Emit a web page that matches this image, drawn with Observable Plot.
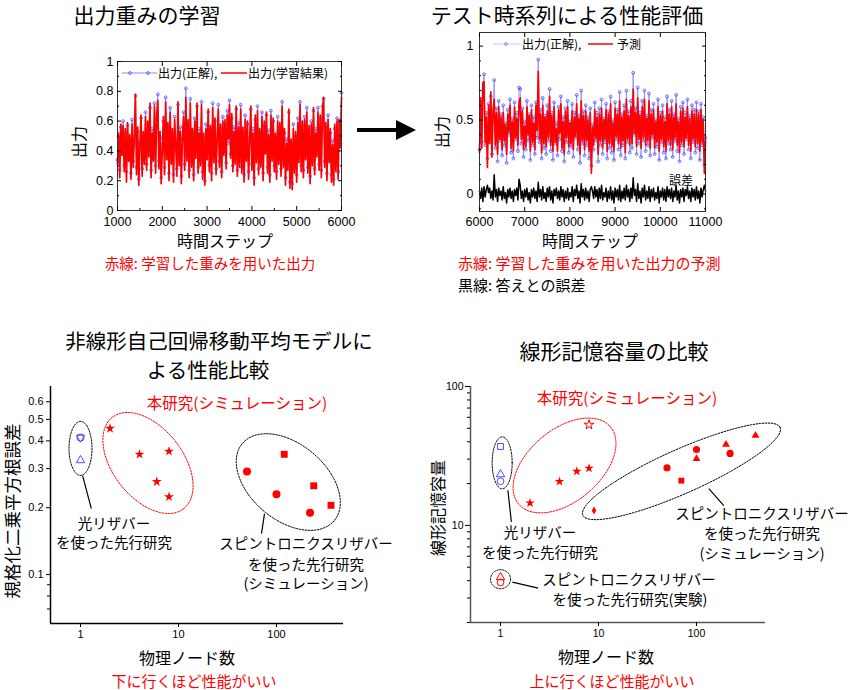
<!DOCTYPE html>
<html><head><meta charset="utf-8">
<script src="https://cdn.jsdelivr.net/npm/d3@7"></script>
<script src="https://cdn.jsdelivr.net/npm/@observablehq/plot@0.6"></script>
<style>
body{margin:0;background:#fff;}
#page{position:relative;width:850px;height:690px;overflow:hidden;font-family:"Noto Sans CJK JP","Liberation Sans",sans-serif;}
.layer{position:absolute;left:0;top:0;}
.lbl{position:absolute;white-space:nowrap;line-height:1;}
</style></head><body><div id="page"></div>
<script>
// ---------- data: training (top-left) ----------
const tlSteps = d3.range(1000, 6001, 25);
const tlAnswer = [.34,.49,.27,.56,.41,.60,.30,.52,.26,.57,.36,.48,.25,.61,.33,.45,.77,.29,.53,.21,
.46,.62,.28,.50,.35,.66,.31,.58,.40,.69,.27,.55,.36,.72,.30,.62,.78,.33,.49,.22,
.44,.60,.29,.76,.38,.57,.25,.69,.35,.52,.24,.63,.41,.28,.71,.34,.56,.23,.48,.66,
.31,.82,.37,.58,.27,.75,.33,.52,.24,.62,.39,.70,.29,.55,.34,.73,.26,.49,.20,.58,
.38,.66,.30,.54,.25,.72,.36,.60,.28,.47,.71,.33,.55,.26,.63,.40,.58,.32,.67,.45,
.74,.38,.62,.30,.56,.35,.68,.27,.59,.33,.71,.29,.53,.24,.64,.37,.58,.26,.49,.68,
.31,.55,.22,.61,.36,.70,.28,.52,.33,.66,.25,.57,.41,.64,.29,.54,.24,.67,.37,.60,
.30,.49,.26,.63,.35,.56,.28,.73,.33,.52,.22,.48,.31,.66,.19,.45,.18,.58,.29,.50,
.24,.62,.36,.73,.30,.57,.27,.63,.38,.69,.29,.54,.23,.60,.34,.67,.28,.55,.40,.69,
.31,.62,.27,.70,.75,.33,.56,.25,.64,.36,.52,.24,.47,.21,.55,.30,.62,.26,.58,.45,.79];
const tlLearned = [.31,.52,.22,.58,.37,.57,.26,.55,.19,.59,.33,.51,.21,.58,.29,.50,.78,.24,.56,.17,
.43,.64,.23,.53,.31,.63,.27,.60,.36,.72,.22,.52,.33,.70,.25,.64,.74,.28,.53,.18,
.41,.63,.24,.73,.34,.59,.20,.66,.31,.55,.19,.61,.44,.23,.73,.30,.53,.18,.51,.63,
.27,.76,.33,.61,.22,.72,.29,.55,.20,.60,.35,.72,.25,.52,.30,.71,.21,.52,.17,.55,
.34,.68,.26,.57,.20,.69,.32,.62,.24,.50,.68,.29,.58,.22,.60,.37,.61,.28,.64,.48,
.71,.35,.65,.26,.53,.31,.70,.23,.56,.29,.68,.25,.56,.19,.61,.33,.60,.21,.46,.70,
.27,.52,.17,.64,.32,.67,.24,.55,.29,.63,.20,.60,.38,.66,.25,.51,.19,.64,.33,.62,
.26,.52,.21,.60,.31,.59,.23,.70,.29,.55,.17,.45,.27,.68,.15,.48,.14,.55,.25,.53,
.19,.59,.32,.71,.26,.60,.22,.61,.34,.66,.25,.57,.18,.58,.30,.69,.24,.52,.36,.66,
.27,.64,.22,.68,.76,.29,.59,.20,.61,.32,.55,.19,.44,.17,.58,.26,.60,.21,.61,.42,.76];
const tlXTicks = [1000,2000,3000,4000,5000,6000];
const tlXMinor = [1500,2500,3500,4500,5500];
const tlYTicks = [0,0.2,0.4,0.6,0.8,1];
const tlYMinor = [0.1,0.3,0.5,0.7,0.9];

// ---------- data: test (top-right) ----------
const trSteps = d3.range(6000, 11001, 25);
const trAnswer = [.30,.62,.35,.70,.81,.33,.55,.24,.61,.38,.66,.27,.52,.77,.31,.58,.22,.63,.36,.54,
.26,.60,.33,.48,.21,.57,.40,.64,.28,.51,.24,.62,.37,.55,.29,.72,.71,.34,.58,.25,
.49,.30,.63,.36,.54,.23,.60,.33,.52,.27,.62,.38,.91,.35,.57,.24,.65,.31,.53,.27,
.60,.36,.71,.29,.55,.23,.62,.34,.48,.26,.59,.37,.66,.29,.52,.22,.58,.35,.63,.28,
.49,.32,.61,.25,.55,.38,.67,.30,.53,.21,.70,.34,.56,.26,.60,.33,.52,.24,.58,.19,
.47,.30,.62,.36,.55,.22,.58,.33,.64,.27,.51,.35,.61,.24,.56,.31,.66,.28,.50,.23,
.62,.37,.57,.30,.69,.26,.54,.33,.60,.24,.70,.35,.56,.28,.63,.31,.82,.40,.58,.27,
.72,.34,.55,.25,.63,.36,.70,.29,.53,.33,.68,.26,.57,.38,.61,.27,.50,.32,.64,.23,
.55,.35,.60,.28,.52,.24,.66,.34,.57,.30,.63,.25,.54,.36,.67,.29,.51,.22,.59,.33,
.62,.27,.55,.37,.64,.30,.53,.24,.60,.35,.57,.28,.62,.31,.56,.23,.61,.33,.52,.20,.38];
const trPredicted = [.28,.65,.31,.75,.76,.35,.52,.18,.60,.34,.69,.25,.56,.64,.33,.55,.27,.59,.37,.52,
.30,.55,.36,.47,.27,.54,.42,.60,.31,.49,.29,.59,.38,.51,.33,.62,.65,.37,.56,.30,
.46,.32,.59,.40,.53,.29,.57,.35,.48,.30,.60,.43,.83,.37,.54,.28,.60,.34,.52,.32,
.56,.38,.66,.33,.53,.29,.59,.35,.44,.29,.57,.41,.61,.31,.49,.27,.56,.38,.59,.32,
.48,.34,.56,.30,.52,.39,.61,.33,.51,.27,.63,.36,.53,.30,.56,.36,.50,.29,.55,.14,
.45,.33,.57,.38,.52,.27,.54,.36,.58,.31,.50,.37,.57,.29,.54,.34,.61,.32,.48,.29,
.58,.39,.54,.34,.63,.31,.52,.36,.56,.28,.64,.37,.53,.33,.59,.34,.71,.41,.55,.32,
.65,.37,.53,.31,.59,.38,.64,.33,.51,.36,.63,.31,.54,.40,.57,.31,.49,.35,.59,.29,
.53,.37,.56,.32,.49,.29,.61,.36,.54,.33,.59,.30,.52,.38,.61,.33,.49,.28,.56,.35,
.58,.32,.52,.38,.59,.33,.51,.29,.56,.37,.54,.32,.57,.34,.54,.29,.57,.35,.49,.14,.36];
const trError = [.02,-.03,.04,-.05,.05,-.02,.03,.06,.01,.04,-.03,.02,-.04,.13,-.02,.03,-.05,.04,-.01,.02,
-.04,.05,-.03,.01,-.06,.03,-.02,.04,-.03,.02,-.05,.03,-.01,.04,-.04,.10,.06,-.03,.02,-.05,
.03,-.02,.04,-.04,.01,-.06,.03,-.02,.04,-.03,.02,-.05,.08,-.02,.03,-.04,.05,-.03,.01,-.05,
.04,-.02,.05,-.04,.02,-.06,.03,-.01,.04,-.03,.02,-.04,.05,-.02,.03,-.05,.02,-.03,.04,-.04,
.01,-.02,.05,-.05,.03,-.01,.06,-.03,.02,-.06,.07,-.02,.03,-.04,.04,-.03,.02,-.05,.03,.05,
.02,-.03,.05,-.02,.03,-.05,.04,-.03,.06,-.04,.01,-.02,.04,-.05,.02,-.03,.05,-.04,.02,-.06,
.04,-.02,.03,-.04,.06,-.05,.02,-.03,.04,-.04,.06,-.02,.03,-.05,.04,-.03,.11,-.01,.03,-.05,
.07,-.03,.02,-.06,.04,-.02,.06,-.04,.02,-.03,.05,-.05,.03,-.02,.04,-.04,.01,-.03,.05,-.06,
.02,-.02,.04,-.04,.03,-.05,.05,-.02,.03,-.03,.04,-.05,.02,-.02,.06,-.04,.02,-.06,.03,-.02,
.04,-.05,.03,-.01,.05,-.03,.02,-.05,.04,-.02,.03,-.04,.05,-.03,.02,-.06,.04,-.02,.03,.06,.02];
const trXTicks = [6000,7000,8000,9000,10000,11000];
const trYTicks = [0,0.5,1];
const trYMinor = [-0.1,0.1,0.2,0.3,0.4,0.6,0.7,0.8,0.9];

// ---------- data: NARMA comparison (bottom-left) ----------
const blStarNodes = [2,4,8,6,8],     blStarNrmse = [0.455,0.348,0.359,0.262,0.224];
const blCircleNodes = [50,100,220],  blCircleNrmse = [0.291,0.230,0.190];
const blSquareNodes = [120,240,360], blSquareNrmse = [0.348,0.251,0.205];
const blPhotonicANodes = [1], blPhotonicANrmse = [0.414];
const blPhotonicBNodes = [1], blPhotonicBNrmse = [0.327];
const blXTicks = [1,10,100];
const blYTicks = [0.1,0.2,0.3,0.4,0.5,0.6];
const blYMinor = [0.07,0.08,0.09];

// ---------- data: memory capacity (bottom-right) ----------
const brStarNodes = [2,4,6,8],          brStarMC = [14.5,20.7,24.5,25.8];
const brOpenStarNodes = [8],            brOpenStarMC = [53];
const brDiamondNodes = [9],             brDiamondMC = [12.8];
const brCircleNodes = [50,100,220],     brCircleMC = [26,35.2,33];
const brSquareNodes = [70],             brSquareMC = [21];
const brTriangleNodes = [100,200,400],  brTriangleMC = [30.2,38.3,44.4];
const brPhotSquareNodes = [1], brPhotSquareMC = [37];
const brPhotTriNodes = [1],    brPhotTriMC = [23.3];
const brPhotCircNodes = [1],   brPhotCircMC = [20.8];
const brExpTriNodes = [1],     brExpTriMC = [4.23];
const brExpCircNodes = [1],    brExpCircMC = [3.89];
const brXTicks = [1,10,100];
const brYTicks = [10,100];
const brYMinor = [2,3,4,5,6,7,8,9,20,30,40,50,60,70,80,90];

// ---------- layout ----------
const W = 850, H = 690;
const page = document.getElementById("page");
const NUMFONT = '"Liberation Sans","Noto Sans CJK JP",sans-serif';

function label(text, x, y, o = {}) {
  const d = document.createElement("div");
  d.className = "lbl"; d.textContent = text;
  d.style.left = x + "px"; d.style.top = y + "px";
  d.style.fontSize = (o.size || 15) + "px";
  d.style.color = o.color || "#000";
  const ax = o.anchor === "start" ? "0" : o.anchor === "end" ? "-100%" : "-50%";
  d.style.transform = `translate(${ax},-50%)` + (o.rotate ? ` rotate(${o.rotate}deg)` : "");
  page.appendChild(d);
}
function addPlot(opts, fontSize) {
  const svg = Plot.plot({width: W, height: H, ...opts,
    style: {background: "transparent", fontFamily: NUMFONT, fontSize: fontSize + "px", overflow: "visible"}});
  svg.setAttribute("class", svg.getAttribute("class") + " layer");
  svg.style.position = "absolute"; svg.style.left = "0px"; svg.style.top = "0px";
  page.appendChild(svg);
}
const blank = () => "";
const numFmt = d => String(+(+d).toFixed(2));

// ---- top-left chart ----
const tlData = tlSteps.map((t, i) => ({t, answer: tlAnswer[i], learned: tlLearned[i]}));
const tlFrame = {left: 117, right: 341, top: 61, bottom: 210};
addPlot({
  marginLeft: tlFrame.left, marginRight: W - tlFrame.right, marginTop: tlFrame.top, marginBottom: H - tlFrame.bottom,
  x: {domain: [1000, 6000], axis: null, label: null},
  y: {domain: [0, 1], axis: null, label: null},
  marks: [
    Plot.line(tlData, {x: "t", y: "answer", stroke: "#8a8aff", strokeWidth: 0.9}),
    Plot.dot(tlData, {x: "t", y: "answer", r: 1.4, stroke: "#3a3aff", strokeWidth: 0.7, fill: "none"}),
    Plot.line(tlData, {x: "t", y: "learned", stroke: "#ff0000", strokeWidth: 1.7}),
    Plot.frame({stroke: "#333"}),
    Plot.axisX({ticks: tlXTicks, tickSize: 0, tickPadding: 7, tickFormat: d => String(d), label: null}),
    Plot.axisX({ticks: tlXTicks, tickSize: 4, dy: -4, tickFormat: blank, label: null}),
    Plot.axisX({ticks: tlXMinor, tickSize: 2, dy: -2, tickFormat: blank, label: null}),
    Plot.axisX({ticks: tlXTicks, anchor: "top", tickSize: 4, dy: 4, tickFormat: blank, label: null}),
    Plot.axisY({ticks: tlYTicks, tickSize: 0, tickPadding: 4, tickFormat: numFmt, label: null}),
    Plot.axisY({ticks: tlYTicks, tickSize: 4, dx: 4, tickFormat: blank, label: null}),
    Plot.axisY({ticks: tlYMinor, tickSize: 2, dx: 2, tickFormat: blank, label: null}),
    Plot.axisY({ticks: tlYTicks, anchor: "right", tickSize: 4, dx: -4, tickFormat: blank, label: null}),
    Plot.axisY({ticks: tlYMinor, anchor: "right", tickSize: 2, dx: -2, tickFormat: blank, label: null})
  ]
}, 12.5);

// ---- top-right chart ----
const trData = trSteps.map((t, i) => ({t, answer: trAnswer[i], predicted: trPredicted[i], error: trError[i]}));
const trFrame = {left: 479, right: 705, top: 32, bottom: 211};
addPlot({
  marginLeft: trFrame.left, marginRight: W - trFrame.right, marginTop: trFrame.top, marginBottom: H - trFrame.bottom,
  x: {domain: [6000, 11000], axis: null, label: null},
  y: {domain: [-0.118, 1.092], axis: null, label: null},
  marks: [
    Plot.line(trData, {x: "t", y: "answer", stroke: "#8a8aff", strokeWidth: 0.9}),
    Plot.dot(trData, {x: "t", y: "answer", r: 1.4, stroke: "#3a3aff", strokeWidth: 0.7, fill: "none"}),
    Plot.line(trData, {x: "t", y: "predicted", stroke: "#ff0000", strokeWidth: 1.7}),
    Plot.line(trData, {x: "t", y: "error", stroke: "#000", strokeWidth: 1.5}),
    Plot.frame({stroke: "#333"}),
    Plot.axisX({ticks: trXTicks, tickSize: 0, tickPadding: 6, tickFormat: d => String(d), label: null}),
    Plot.axisX({ticks: trXTicks, tickSize: 4, dy: -4, tickFormat: blank, label: null}),
    Plot.axisX({ticks: trXTicks, anchor: "top", tickSize: 4, dy: 4, tickFormat: blank, label: null}),
    Plot.axisY({ticks: trYTicks, tickSize: 0, tickPadding: 6, tickFormat: numFmt, label: null}),
    Plot.axisY({ticks: trYTicks, tickSize: 4, dx: 4, tickFormat: blank, label: null}),
    Plot.axisY({ticks: trYMinor, tickSize: 2, dx: 2, tickFormat: blank, label: null}),
    Plot.axisY({ticks: trYTicks, anchor: "right", tickSize: 4, dx: -4, tickFormat: blank, label: null}),
    Plot.axisY({ticks: trYMinor, anchor: "right", tickSize: 2, dx: -2, tickFormat: blank, label: null})
  ]
}, 12.5);

// ---- helpers for log charts ----
function ellipse(e, xd, yd, fr) {
  const kx = (fr.right - fr.left) / Math.log10(xd[1] / xd[0]);
  const ky = (fr.bottom - fr.top) / Math.log10(yd[1] / yd[0]);
  const th = e.angle * Math.PI / 180;
  return d3.range(0, 361, 4).map(deg => {
    const t = deg * Math.PI / 180;
    const dx = e.a * Math.cos(t) * Math.cos(th) - e.b * Math.sin(t) * Math.sin(th);
    const dy = e.a * Math.cos(t) * Math.sin(th) + e.b * Math.sin(t) * Math.cos(th);
    return {x: e.cx * Math.pow(10, dx / kx), y: e.cy * Math.pow(10, -dy / ky)};
  });
}
const pts = (xs, ys) => xs.map((x, i) => ({x, y: ys[i]}));
const RED = "#ff0000", BLUE = "#4a4aff";

// ---- bottom-left chart ----
const blFrame = {left: 50, right: 343, top: 386, bottom: 623};
const blXDomain = [0.494, 483], blYDomain = [0.0602, 0.703];
const blEllipses = [
  {cx: 1, cy: 0.37, a: 11.5, b: 27, angle: 0, stroke: "#000"},
  {cx: 4.88, cy: 0.318, a: 58, b: 35, angle: 52, stroke: RED},
  {cx: 132, cy: 0.261, a: 60, b: 38, angle: 40, stroke: "#000"}
];
const blLeaders = [
  {x1: 1.05, y1: 0.279, x2: 1.29, y2: 0.198},
  {x1: 75.5, y1: 0.188, x2: 70.3, y2: 0.153}
];
addPlot({
  marginLeft: blFrame.left, marginRight: W - blFrame.right, marginTop: blFrame.top, marginBottom: H - blFrame.bottom,
  x: {type: "log", domain: blXDomain, axis: null, label: null},
  y: {type: "log", domain: blYDomain, axis: null, label: null},
  marks: [
    ...blEllipses.map(e => Plot.line(ellipse(e, blXDomain, blYDomain, blFrame), {x: "x", y: "y", stroke: e.stroke, strokeWidth: 1, strokeDasharray: "1.6,1.4"})),
    Plot.link(blLeaders, {x1: "x1", y1: "y1", x2: "x2", y2: "y2", stroke: "#000", strokeWidth: 1.2}),
    Plot.dot(pts(blPhotonicANodes, blPhotonicANrmse), {x: "x", y: "y", symbol: "circle", r: 3.6, stroke: BLUE, fill: "none", strokeWidth: 1}),
    Plot.dot(pts(blPhotonicANodes, blPhotonicANrmse), {x: "x", y: "y", symbol: "triangle", r: 3, rotate: 180, stroke: BLUE, fill: "none", strokeWidth: 1}),
    Plot.dot(pts(blPhotonicBNodes, blPhotonicBNrmse), {x: "x", y: "y", symbol: "triangle", r: 3.1, stroke: BLUE, fill: "none", strokeWidth: 1}),
    Plot.dot(pts(blStarNodes, blStarNrmse), {x: "x", y: "y", symbol: "star", r: 3.1, fill: RED, stroke: "none"}),
    Plot.dot(pts(blCircleNodes, blCircleNrmse), {x: "x", y: "y", symbol: "circle", r: 4, fill: RED, stroke: "none"}),
    Plot.dot(pts(blSquareNodes, blSquareNrmse), {x: "x", y: "y", symbol: "square", r: 3.9, fill: RED, stroke: "none"}),
    Plot.ruleX([blXDomain[0]], {stroke: "#000", strokeWidth: 1.5}),
    Plot.ruleY([blYDomain[0]], {stroke: "#000", strokeWidth: 1.5}),
    Plot.axisX({ticks: blXTicks, tickSize: 4, tickPadding: 3, tickFormat: d => String(d), label: null}),
    Plot.axisY({ticks: blYTicks, tickSize: 4, tickPadding: 3, tickFormat: d => String(d), label: null}),
    Plot.axisY({ticks: blYMinor, tickSize: 3, tickFormat: blank, label: null})
  ]
}, 11);

// ---- bottom-right chart ----
const brFrame = {left: 470, right: 765, top: 386, bottom: 622};
const brXDomain = [0.494, 506], brYDomain = [2, 100];
const brEllipses = [
  {cx: 1.04, cy: 28.2, a: 10, b: 26, angle: 0, stroke: "#000"},
  {cx: 4.5, cy: 27, a: 60, b: 36, angle: -40, stroke: RED},
  {cx: 70.3, cy: 24.5, a: 108, b: 22, angle: -24, stroke: "#000"},
  {cx: 1, cy: 4.1, a: 10, b: 9.5, angle: 0, stroke: "#000"}
];
const brLeaders = [
  {x1: 1.19, y1: 17.9, x2: 1.29, y2: 10.6},
  {x1: 1.32, y1: 3.91, x2: 2.42, y2: 3.54},
  {x1: 133.6, y1: 18.4, x2: 190, y2: 13.9}
];
addPlot({
  marginLeft: brFrame.left, marginRight: W - brFrame.right, marginTop: brFrame.top, marginBottom: H - brFrame.bottom,
  x: {type: "log", domain: brXDomain, axis: null, label: null},
  y: {type: "log", domain: brYDomain, axis: null, label: null},
  marks: [
    ...brEllipses.map(e => Plot.line(ellipse(e, brXDomain, brYDomain, brFrame), {x: "x", y: "y", stroke: e.stroke, strokeWidth: 1, strokeDasharray: "1.6,1.4"})),
    Plot.link(brLeaders, {x1: "x1", y1: "y1", x2: "x2", y2: "y2", stroke: "#000", strokeWidth: 1.2}),
    Plot.dot(pts(brPhotSquareNodes, brPhotSquareMC), {x: "x", y: "y", symbol: "square", r: 3.3, stroke: BLUE, fill: "none", strokeWidth: 1}),
    Plot.dot(pts(brPhotTriNodes, brPhotTriMC), {x: "x", y: "y", symbol: "triangle", r: 3.1, stroke: BLUE, fill: "none", strokeWidth: 1}),
    Plot.dot(pts(brPhotCircNodes, brPhotCircMC), {x: "x", y: "y", symbol: "circle", r: 3.4, stroke: BLUE, fill: "none", strokeWidth: 1}),
    Plot.dot(pts(brExpTriNodes, brExpTriMC), {x: "x", y: "y", symbol: "triangle", r: 3.1, stroke: RED, fill: "none", strokeWidth: 1}),
    Plot.dot(pts(brExpCircNodes, brExpCircMC), {x: "x", y: "y", symbol: "circle", r: 3.4, stroke: RED, fill: "none", strokeWidth: 1}),
    Plot.dot(pts(brStarNodes, brStarMC), {x: "x", y: "y", symbol: "star", r: 3, fill: RED, stroke: "none"}),
    Plot.dot(pts(brOpenStarNodes, brOpenStarMC), {x: "x", y: "y", symbol: "star", r: 3, fill: "none", stroke: RED, strokeWidth: 1}),
    Plot.dot(pts(brDiamondNodes, brDiamondMC), {x: "x", y: "y", symbol: "diamond", r: 2.4, fill: RED, stroke: "none"}),
    Plot.dot(pts(brCircleNodes, brCircleMC), {x: "x", y: "y", symbol: "circle", r: 3.6, fill: RED, stroke: "none"}),
    Plot.dot(pts(brSquareNodes, brSquareMC), {x: "x", y: "y", symbol: "square", r: 3.3, fill: RED, stroke: "none"}),
    Plot.dot(pts(brTriangleNodes, brTriangleMC), {x: "x", y: "y", symbol: "triangle", r: 2.9, fill: RED, stroke: "none"}),
    Plot.ruleX([brXDomain[0]], {stroke: "#555", strokeWidth: 1.5}),
    Plot.ruleY([brYDomain[0]], {stroke: "#555", strokeWidth: 1.5}),
    Plot.axisX({ticks: brXTicks, tickSize: 4, tickPadding: 3, tickFormat: d => String(d), label: null}),
    Plot.axisY({ticks: brYTicks, tickSize: 5, tickPadding: 2, tickFormat: d => String(d), label: null}),
    Plot.axisY({ticks: brYMinor, tickSize: 3, tickFormat: blank, label: null})
  ]
}, 10.5);

// ---- arrow and legend samples (annotation overlay) ----
const ns = "http://www.w3.org/2000/svg";
const ov = document.createElementNS(ns, "svg");
ov.setAttribute("width", W); ov.setAttribute("height", H);
ov.setAttribute("class", "layer"); ov.style.position = "absolute";
ov.innerHTML = `
  <line x1="357" y1="130" x2="399" y2="130" stroke="#000" stroke-width="4"/>
  <polygon points="396,120 416,130 396,140" fill="#000"/>
  <line x1="122" y1="73" x2="157" y2="73" stroke="#8a8aff" stroke-width="1"/>
  <circle cx="130" cy="73" r="1.4" fill="none" stroke="#3a3aff" stroke-width="0.7"/>
  <circle cx="148" cy="73" r="1.4" fill="none" stroke="#3a3aff" stroke-width="0.7"/>
  <line x1="221" y1="73" x2="247" y2="73" stroke="#ff0000" stroke-width="1.5"/>
  <line x1="493" y1="44" x2="520" y2="44" stroke="#c8c8ff" stroke-width="1"/>
  <circle cx="506" cy="44" r="1.4" fill="none" stroke="#5a5aff" stroke-width="0.7"/>
  <line x1="588" y1="44" x2="613" y2="44" stroke="#ff0000" stroke-width="1.5"/>`;
page.appendChild(ov);

// ---- texts ----
label("出力重みの学習", 147, 14, {size: 21});
label("テスト時系列による性能評価", 567, 14, {size: 21});
label("出力(正解),", 158, 73, {size: 12, anchor: "start"});
label("出力(学習結果)", 248, 73, {size: 12, anchor: "start"});
label("出力(正解),", 522, 44, {size: 12, anchor: "start"});
label("予測", 617, 44, {size: 12, anchor: "start"});
label("誤差", 681, 180, {size: 12});
label("出力", 78, 142, {size: 16, rotate: -90});
label("出力", 441, 132, {size: 16, rotate: -90});
label("時間ステップ", 225, 240, {size: 16});
label("時間ステップ", 590, 240, {size: 16});
label("赤線: 学習した重みを用いた出力", 210, 263, {size: 14.5, color: RED});
label("赤線: 学習した重みを用いた出力の予測", 458, 262, {size: 15, color: RED, anchor: "start"});
label("黒線: 答えとの誤差", 458, 284, {size: 15, anchor: "start"});

label("非線形自己回帰移動平均モデルに", 219, 340, {size: 20.5});
label("よる性能比較", 208, 369, {size: 20.5});
label("線形記憶容量の比較", 614, 350, {size: 21});

label("本研究(シミュレーション)", 237, 403, {size: 15.5, color: RED});
label("光リザバー", 114, 523, {size: 14.5});
label("を使った先行研究", 114, 542, {size: 14.5});
label("スピントロニクスリザバー", 306, 543, {size: 14.5});
label("を使った先行研究", 306, 564, {size: 14.5});
label("(シミュレーション)", 306, 583, {size: 14.5});
label("規格化二乗平方根誤差", 12, 511, {size: 17.5, rotate: -90});
label("物理ノード数", 187, 657, {size: 16});
label("下に行くほど性能がいい", 194, 680, {size: 15, color: RED});

label("本研究(シミュレーション)", 627, 398, {size: 15.5, color: RED});
label("光リザバー", 540, 532, {size: 14.5});
label("を使った先行研究", 540, 552, {size: 14.5});
label("スピントロニクスリザバー", 762, 513, {size: 14.5});
label("を使った先行研究", 762, 533, {size: 14.5});
label("(シミュレーション)", 762, 553, {size: 14.5});
label("スピントロニクスリザバー", 629, 579, {size: 14.5});
label("を使った先行研究(実験)", 630, 599, {size: 14.5});
label("線形記憶容量", 437, 508, {size: 16, rotate: -90});
label("物理ノード数", 606, 656, {size: 16});
label("上に行くほど性能がいい", 612, 680, {size: 15, color: RED});
</script></body></html>
